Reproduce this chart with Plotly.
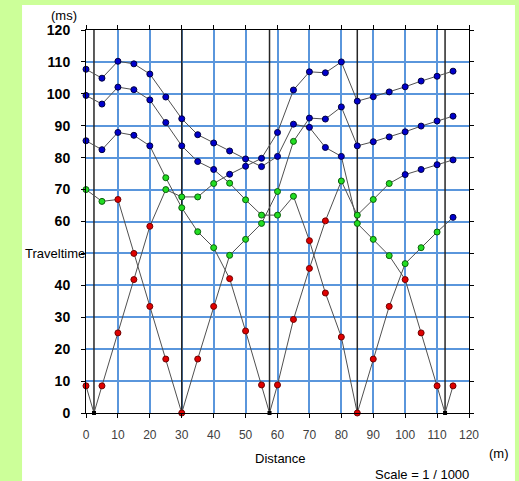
import plotly.graph_objects as go

# ---------------- data ----------------
receivers = [0, 5, 10, 15, 20, 25, 30, 35, 40, 45, 50, 55, 60, 65, 70, 75, 80, 85, 90, 95, 100, 105, 110, 115]
shot_positions = [2.5, 30, 57.5, 85, 112.5]

t_shot1 = [8.5, 8.5, 25.1, 41.8, 58.5, 70.0, 67.7, 67.7, 71.9, 74.8, 77.3, 79.8, 87.9, 101.2, 106.9, 106.6, 110.0, 97.7, 99.1, 100.6, 102.2, 104.0, 105.5, 107.1]
t_shot2 = [70.0, 66.3, 66.9, 50.0, 33.4, 16.9, 0.0, 16.9, 33.4, 49.4, 54.4, 59.4, 69.4, 85.1, 92.4, 92.1, 95.9, 83.7, 85.0, 86.5, 88.1, 89.9, 91.5, 93.0]
t_shot3 = [85.3, 82.5, 87.9, 87.0, 83.7, 73.7, 64.3, 56.8, 51.8, 42.1, 25.7, 8.8, 8.8, 29.3, 45.3, 60.2, 72.7, 62.0, 66.9, 71.9, 74.7, 76.3, 77.8, 79.3]
t_shot4 = [99.5, 96.8, 102.1, 101.3, 98.1, 91.0, 83.7, 78.8, 76.3, 72.0, 66.8, 62.0, 62.0, 67.9, 54.0, 37.6, 23.8, 0.0, 16.9, 33.4, 46.8, 51.8, 56.7, 61.3]
t_shot5 = [107.7, 104.9, 110.2, 109.4, 106.2, 99.0, 92.2, 87.2, 84.6, 82.1, 79.6, 77.2, 80.4, 90.5, 89.5, 83.2, 80.4, 59.4, 54.4, 49.3, 41.8, 25.1, 8.5, 8.5]

# refractor layer assigned to each pick (1 = direct, 2 = second layer, 3 = third layer)
layer_shot1 = [1, 1, 1, 1, 1, 2, 2, 2, 2, 3, 3, 3, 3, 3, 3, 3, 3, 3, 3, 3, 3, 3, 3, 3]
layer_shot2 = [2, 2, 1, 1, 1, 1, 1, 1, 1, 2, 2, 2, 2, 2, 3, 3, 3, 3, 3, 3, 3, 3, 3, 3]
layer_shot3 = [3, 3, 3, 3, 3, 2, 2, 2, 2, 1, 1, 1, 1, 1, 1, 1, 2, 2, 2, 2, 3, 3, 3, 3]
layer_shot4 = [3, 3, 3, 3, 3, 3, 3, 3, 3, 2, 2, 2, 2, 2, 1, 1, 1, 1, 1, 1, 2, 2, 2, 3]
layer_shot5 = [3, 3, 3, 3, 3, 3, 3, 3, 3, 3, 3, 3, 3, 3, 3, 3, 3, 2, 2, 2, 1, 1, 1, 1]

y_ticks = [0, 10, 20, 30, 40, 50, 60, 70, 80, 90, 100, 110, 120]
y_labels = ["0", "10", "20", "30", "40", "", "60", "70", "80", "90", "100", "110", "120"]
x_ticks = [0, 10, 20, 30, 40, 50, 60, 70, 80, 90, 100, 110, 120]

times = [t_shot1, t_shot2, t_shot3, t_shot4, t_shot5]
layers = [layer_shot1, layer_shot2, layer_shot3, layer_shot4, layer_shot5]

# ---------------- figure ----------------
FONT = "Liberation Sans, Arial, sans-serif"
Y_MAX = y_ticks[-1]
fig = go.Figure()

# vertical lines at shot positions
for s in shot_positions:
    fig.add_trace(go.Scatter(
        x=[s, s], y=[0, Y_MAX], mode="lines",
        line=dict(color="#262626", width=1.5), hoverinfo="skip",
        showlegend=False, cliponaxis=False))

# travel-time curves (lines)
for s, ts in zip(shot_positions, times):
    pts = list(zip(receivers, ts))
    if s not in receivers:
        pts.append((s, 0.0))
    pts.sort()
    fig.add_trace(go.Scatter(
        x=[p[0] for p in pts], y=[p[1] for p in pts], mode="lines",
        line=dict(color="#505050", width=1), hoverinfo="skip",
        showlegend=False, cliponaxis=False))

# markers by layer
styles = {1: ("#E00000", "#700000"), 2: ("#22DD22", "#0B5E0B"), 3: ("#0000CC", "#000040")}
for lay in (1, 2, 3):
    xs, ys = [], []
    for ts, ls in zip(times, layers):
        for r, t, l in zip(receivers, ts, ls):
            if l == lay:
                xs.append(r)
                ys.append(t)
    fill, edge = styles[lay]
    fig.add_trace(go.Scatter(
        x=xs, y=ys, mode="markers",
        marker=dict(symbol="circle", size=6, color=fill, line=dict(color=edge, width=1)),
        showlegend=False, cliponaxis=False))

# shot points not on a receiver
sx = [s for s in shot_positions if s not in receivers]
fig.add_trace(go.Scatter(
    x=sx, y=[0] * len(sx), mode="markers",
    marker=dict(symbol="square", size=4, color="black"),
    showlegend=False, cliponaxis=False))

# white panel
fig.add_shape(type="rect", xref="paper", yref="paper", x0=-0.167, x1=1.12, y0=-0.2, y1=1.0653,
              fillcolor="white", line=dict(width=0), layer="below")

fig.update_xaxes(
    range=[0, 120], tickvals=x_ticks, showgrid=True, gridcolor="#5A96DC", gridwidth=2,
    zeroline=False, showline=True, linecolor="black", linewidth=1, mirror="ticks",
    ticks="outside", ticklen=4, tickcolor="black", ticklabelstandoff=7, automargin=False,
    tickangle=0, tickfont=dict(family=FONT, size=12, color="#404040"))
fig.update_yaxes(
    range=[0, 120], tickvals=y_ticks, ticktext=["<b>%s</b>" % t for t in y_labels],
    showgrid=True, gridcolor="#5A96DC", gridwidth=2, automargin=False,
    zeroline=False, showline=True, linecolor="black", linewidth=1, mirror="ticks",
    ticks="outside", ticklen=4, tickcolor="black", ticklabelstandoff=8,
    tickfont=dict(family=FONT, size=14, color="black"))

ann = dict(showarrow=False, xref="paper", yref="paper", font=dict(family=FONT, size=13, color="black"))
fig.add_annotation(text="(ms)", x=-0.0575, y=1.038, xanchor="center", yanchor="middle", **ann)
fig.add_annotation(text="Traveltime", x=0.003, y=50 / 120, xanchor="right", yanchor="middle", **ann)
fig.add_annotation(text="Distance", x=0.509, y=-0.1175, xanchor="center", yanchor="middle", **ann)
fig.add_annotation(text="(m)", x=1.0783, y=-0.105, xanchor="center", yanchor="middle", **ann)
fig.add_annotation(text="Scale = 1 / 1000", x=0.8775, y=-0.1608, xanchor="center", yanchor="middle", **ann)

fig.update_layout(
    width=519, height=481, autosize=False,
    margin=dict(l=86, r=50, t=30, b=68, pad=0, autoexpand=False),
    paper_bgcolor="#CCFF99", plot_bgcolor="white",
    font=dict(family=FONT), showlegend=False)

fig.write_html("out.html", config={"displayModeBar": False},
               post_script="document.body.style.margin='0';document.body.style.padding='0';")
